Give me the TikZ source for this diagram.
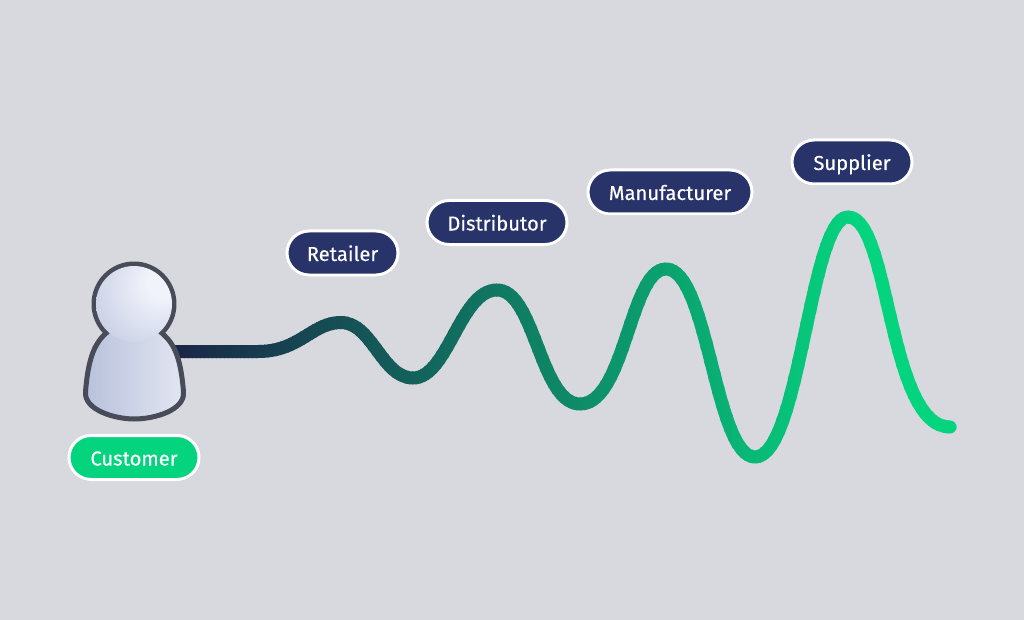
\documentclass[tikz,border=0pt]{standalone}
\usepackage{fontspec}
\setmainfont{Fira Sans}[BoldFont={Fira Sans},BoldFeatures={FakeBold=0.3}]
\usetikzlibrary{shadows}
\definecolor{bgc}{HTML}{D8D9DE}
\definecolor{navy}{HTML}{28336A}
\definecolor{grn}{HTML}{05D47F}
\definecolor{wavea}{HTML}{1A2748}
\definecolor{outl}{HTML}{484B58}
\definecolor{hl}{HTML}{F1F3FB}
\definecolor{hm}{HTML}{D9DEEE}
\definecolor{he}{HTML}{A9B3D0}
\definecolor{bl}{HTML}{B8C1DC}
\definecolor{br}{HTML}{E3E6F2}
\pgfdeclareradialshading{headshade}{\pgfpoint{21bp}{16bp}}{%
 color(0bp)=(hl); color(10bp)=(hl); color(30bp)=(hm); color(70bp)=(he); color(100bp)=(he)}
\newcommand{\pilltext}[1]{\raisebox{-8pt}[0pt][0pt]{#1}}
\tikzset{
 pill/.style={draw=white,line width=3pt,rounded corners=22pt,minimum height=44pt,
   inner xsep=0pt,inner ysep=0pt,text=white,font=\fontsize{20.2}{24}\selectfont\bfseries,
   general shadow={fill=black,opacity=.10,shadow yshift=-1.5pt,shadow scale=1.01}},
 navypill/.style={pill,fill=navy},
 greenpill/.style={pill,fill=grn},
 wave/.style={line width=13pt,line cap=round,line join=round},
 outline/.style={draw=outl,line width=5pt,line join=round}
}
\newcommand{\wavecurve}{(wstart) -- (258,351.5) .. controls (300,351.5) and (312,322.5) .. (341,322.5)
 .. controls (372,322.5) and (382,378) .. (413,378)
 .. controls (448,378) and (460,290) .. (497,290)
 .. controls (535,290) and (540,404) .. (580,404)
 .. controls (625,404) and (630,269) .. (666,269)
 .. controls (708,269) and (715,457) .. (755,457)
 .. controls (800,457) and (810,217) .. (848,217)
 .. controls (890,217) and (888,427) .. (950,427)}
\begin{document}
\begin{tikzpicture}[x=1pt,y=-1pt]
\useasboundingbox (0,0) rectangle (1024,620);
\fill[bgc] (0,0) rectangle (1024,620);
\coordinate (wstart) at (170,351.5);
\coordinate (wend) at (950,427);
\foreach \xx in {160,164,...,964}{
  \pgfmathsetmacro{\tt}{min(100,max(0,(\xx-178)/(860-178)*100))}
  \colorlet{stripc}{grn!\tt!wavea}
  \begin{scope}
    \clip (\xx,190) rectangle (\xx+5,480);
    \draw[wave,stripc] \wavecurve;
  \end{scope}
}
% person
\node[circle,outline,minimum size=80pt,inner sep=0pt] (head) at (134,304) {};
\path[outline,left color=bl,right color=br]
  (114,326) -- (104,335) .. controls (94,345) and (88,360) .. (85.5,392)
  .. controls (84,410) and (115,419) .. (134,419)
  .. controls (155,419) and (185,410) .. (183.5,392)
  .. controls (181,360) and (175,345) .. (164,335) -- (154,326) -- cycle;
\node[circle,shading=headshade,minimum size=76pt,inner sep=0pt] (headfill) at (134,304) {};
% labels
\node[greenpill,minimum width=130pt] (customer) at (134,457.5) {\pilltext{Customer}};
\node[navypill,minimum width=111pt] (retailer) at (342.5,253) {\pilltext{Retailer}};
\node[navypill,minimum width=140pt] (distributor) at (497,222.5) {\pilltext{Distributor}};
\node[navypill,minimum width=164pt] (manufacturer) at (670,192) {\pilltext{Manufacturer}};
\node[navypill,minimum width=120pt] (supplier) at (852,162) {\pilltext{Supplier}};
\end{tikzpicture}
\end{document}
